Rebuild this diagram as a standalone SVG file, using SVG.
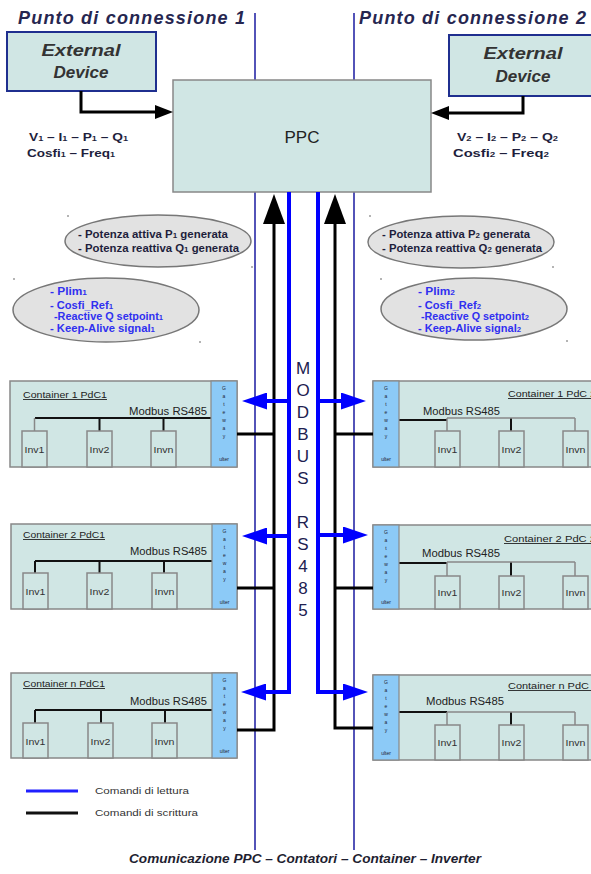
<svg xmlns="http://www.w3.org/2000/svg" width="591" height="874" viewBox="0 0 591 874">
<defs>
<style>
.ttl{font-family:"Liberation Sans",Arial,sans-serif;font-style:italic;font-weight:bold;font-size:18px;fill:#262650}
.ext{font-family:"Liberation Sans",Arial,sans-serif;font-style:italic;font-weight:bold;font-size:17px;fill:#333;text-anchor:middle}
.extbox{fill:#d0e6e4;stroke:#1f2f8f;stroke-width:2}
.box{fill:#d0e6e4;stroke:#888;stroke-width:1.5}
.gw{fill:#8ccaf7;stroke:#888;stroke-width:1.2}
.ell{fill:#e2e2e2;stroke:#777;stroke-width:1.5}
.thin{stroke:#1a1aa0;stroke-width:1.5;fill:none}
.blk{stroke:#000;stroke-width:3;fill:none}
.blu{stroke:#0000ff;stroke-width:4;fill:none;stroke-linejoin:miter}
.bus{stroke:#111;stroke-width:2;fill:none}
.gbus{stroke:#888;stroke-width:1.5;fill:none}
.dat{font-family:"Liberation Sans",Arial,sans-serif;font-weight:bold;font-size:10.5px;fill:#1e1e3c}
.et{font-family:"Liberation Sans",Arial,sans-serif;font-weight:bold;font-size:10px;fill:#1e1e3c}
.eb{font-family:"Liberation Sans",Arial,sans-serif;font-weight:bold;font-size:10px;fill:#3030f0}
.ct{font-family:"Liberation Sans",Arial,sans-serif;font-size:9px;fill:#222;text-decoration:underline}
.mb{font-family:"Liberation Sans",Arial,sans-serif;font-size:10px;fill:#222}
.iv{font-family:"Liberation Sans",Arial,sans-serif;font-size:9px;fill:#333;text-anchor:middle}
.gl{font-family:"Liberation Sans",Arial,sans-serif;font-size:5px;fill:#223;text-anchor:middle}
.mod{font-family:"Liberation Sans",Arial,sans-serif;font-size:17px;fill:#202050;text-anchor:middle}
.lg{font-family:"Liberation Sans",Arial,sans-serif;font-size:9.5px;fill:#333}
.cap{font-family:"Liberation Sans",Arial,sans-serif;font-style:italic;font-weight:bold;font-size:13px;fill:#1e1e30;text-anchor:middle}
.sub{font-size:7px}
.dot{fill:#555}
</style>
<marker id="aBig" markerUnits="userSpaceOnUse" markerWidth="30" markerHeight="22" refX="0" refY="11" orient="auto" viewBox="0 0 30 22"><path d="M0,0 L30,11 L0,22 z" fill="#000"/></marker>
<marker id="aSm" markerUnits="userSpaceOnUse" markerWidth="18" markerHeight="14" refX="0" refY="7" orient="auto" viewBox="0 0 18 14"><path d="M0,0 L18,7 L0,14 z" fill="#000"/></marker>
<marker id="aBlu" markerUnits="userSpaceOnUse" markerWidth="25" markerHeight="17" refX="0" refY="8.5" orient="auto" viewBox="0 0 25 17"><path d="M0,0 L25,8.5 L0,17 z" fill="#0000ff"/></marker>
</defs>
<rect width="591" height="874" fill="#fff"/>

<g id="bus-lines">
<line class="thin" x1="255" y1="13" x2="255" y2="850"/>
<line class="thin" x1="354" y1="13" x2="354" y2="850"/>
</g>

<text class="ttl" x="18" y="24" textLength="227" lengthAdjust="spacing">Punto di connessione 1</text>
<text class="ttl" x="359" y="24" textLength="227" lengthAdjust="spacing">Punto di connessione 2</text>

<g id="ext1">
<rect class="extbox" x="7" y="32" width="149" height="59"/>
<text class="ext" x="81" y="56" textLength="79" lengthAdjust="spacingAndGlyphs">External</text>
<text class="ext" x="81" y="78">Device</text>
</g>
<g id="ext2">
<rect class="extbox" x="449" y="35" width="150" height="61"/>
<text class="ext" x="523" y="59" textLength="79" lengthAdjust="spacingAndGlyphs">External</text>
<text class="ext" x="523" y="82">Device</text>
</g>

<g id="ppc">
<rect class="box" x="173" y="80" width="258" height="112" stroke-width="2"/>
<text x="302" y="143" font-family="Liberation Sans, Arial, sans-serif" font-size="17" fill="#222" text-anchor="middle">PPC</text>
</g>

<g id="meas1">
<text class="dat" x="29" y="141" textLength="99" lengthAdjust="spacingAndGlyphs">V<tspan class="sub">1</tspan> – I<tspan class="sub">1</tspan> – P<tspan class="sub">1</tspan> – Q<tspan class="sub">1</tspan></text>
<text class="dat" x="27" y="157" textLength="88" lengthAdjust="spacingAndGlyphs">Cosfi<tspan class="sub">1</tspan> – Freq<tspan class="sub">1</tspan></text>
</g>
<g id="meas2">
<text class="dat" x="457" y="141" textLength="101" lengthAdjust="spacingAndGlyphs">V<tspan class="sub">2</tspan> – I<tspan class="sub">2</tspan> – P<tspan class="sub">2</tspan> – Q<tspan class="sub">2</tspan></text>
<text class="dat" x="453" y="157" textLength="96" lengthAdjust="spacingAndGlyphs">Cosfi<tspan class="sub">2</tspan>  – Freq<tspan class="sub">2</tspan></text>
</g>

<g id="ell1a">
<ellipse class="ell" cx="158" cy="241" rx="93" ry="26"/>
<text class="et" x="78" y="238" textLength="150" lengthAdjust="spacingAndGlyphs">- Potenza attiva P<tspan class="sub">1</tspan> generata</text>
<text class="et" x="78" y="252" textLength="161" lengthAdjust="spacingAndGlyphs">- Potenza reattiva Q<tspan class="sub">1</tspan> generata</text>
</g>
<g id="ell1b">
<ellipse class="ell" cx="106" cy="310" rx="93" ry="32"/>
<text class="eb" x="50" y="295" textLength="37" lengthAdjust="spacingAndGlyphs">- Plim<tspan class="sub">1</tspan></text>
<text class="eb" x="50" y="309" textLength="63" lengthAdjust="spacingAndGlyphs">- Cosfi_Ref<tspan class="sub">1</tspan></text>
<text class="eb" x="54" y="320" textLength="109" lengthAdjust="spacingAndGlyphs">-Reactive Q setpoint<tspan class="sub">1</tspan></text>
<text class="eb" x="50" y="332" textLength="105" lengthAdjust="spacingAndGlyphs">- Keep-Alive signal<tspan class="sub">1</tspan></text>
</g>
<g id="ell2a">
<ellipse class="ell" cx="461" cy="242" rx="93" ry="26"/>
<text class="et" x="382" y="238" textLength="148" lengthAdjust="spacingAndGlyphs">- Potenza attiva P<tspan class="sub">2</tspan> generata</text>
<text class="et" x="382" y="252" textLength="160" lengthAdjust="spacingAndGlyphs">- Potenza reattiva Q<tspan class="sub">2</tspan> generata</text>
</g>
<g id="ell2b">
<ellipse class="ell" cx="474" cy="309" rx="93" ry="31"/>
<text class="eb" x="418" y="295" textLength="37" lengthAdjust="spacingAndGlyphs">- Plim<tspan class="sub">2</tspan></text>
<text class="eb" x="418" y="309" textLength="63" lengthAdjust="spacingAndGlyphs">- Cosfi_Ref<tspan class="sub">2</tspan></text>
<text class="eb" x="421" y="320" textLength="108" lengthAdjust="spacingAndGlyphs">-Reactive Q setpoint<tspan class="sub">2</tspan></text>
<text class="eb" x="418" y="332" textLength="103" lengthAdjust="spacingAndGlyphs">- Keep-Alive signal<tspan class="sub">2</tspan></text>
</g>
<g id="handles">
<circle class="dot" cx="68" cy="216" r="0.8"/><circle class="dot" cx="252" cy="267" r="0.8"/>
<circle class="dot" cx="14" cy="279" r="0.8"/><circle class="dot" cx="200" cy="342" r="0.8"/>
<circle class="dot" cx="370" cy="216" r="0.8"/><circle class="dot" cx="553" cy="267" r="0.8"/>
<circle class="dot" cx="381" cy="279" r="0.8"/><circle class="dot" cx="567" cy="341" r="0.8"/>
</g>

<g id="modbus-label">
<text class="mod" x="303" y="374">M</text>
<text class="mod" x="303" y="396">O</text>
<text class="mod" x="303" y="418">D</text>
<text class="mod" x="303" y="440">B</text>
<text class="mod" x="303" y="462">U</text>
<text class="mod" x="303" y="484">S</text>
<text class="mod" x="303" y="528">R</text>
<text class="mod" x="303" y="550">S</text>
<text class="mod" x="303" y="572">4</text>
<text class="mod" x="303" y="594">8</text>
<text class="mod" x="303" y="616">5</text>
</g>

<!-- Left containers -->
<g id="c1L">
<rect class="box" x="10" y="381" width="227" height="86"/>
<text class="ct" x="23" y="398" textLength="84" lengthAdjust="spacingAndGlyphs">Container 1  PdC1</text>
<text class="mb" x="129" y="415" textLength="78" lengthAdjust="spacingAndGlyphs">Modbus RS485</text>
<path class="bus" d="M35,418 H211 M99.5,418 V431 M163.5,418 V431"/>
<path class="gbus" d="M34.5,418 V431"/>
<rect class="box" x="22" y="431" width="25" height="36"/><text class="iv" x="34.5" y="453" textLength="20" lengthAdjust="spacingAndGlyphs">Inv1</text>
<rect class="box" x="87" y="431" width="25" height="36"/><text class="iv" x="99.5" y="453" textLength="20" lengthAdjust="spacingAndGlyphs">Inv2</text>
<rect class="box" x="151" y="431" width="25" height="36"/><text class="iv" x="163.5" y="453" textLength="20" lengthAdjust="spacingAndGlyphs">Invn</text>
<rect class="gw" x="211" y="381" width="26" height="86"/>
<text class="gl"><tspan x="224" y="390">G</tspan><tspan x="224" y="398">a</tspan><tspan x="224" y="406">t</tspan><tspan x="224" y="414">e</tspan><tspan x="224" y="422">w</tspan><tspan x="224" y="430">a</tspan><tspan x="224" y="438">y</tspan><tspan x="224" y="461">ulter</tspan></text>
</g>
<g id="c2L">
<rect class="box" x="11" y="524" width="226" height="85"/>
<text class="ct" x="23" y="538" textLength="82" lengthAdjust="spacingAndGlyphs">Container 2 PdC1</text>
<text class="mb" x="130" y="555" textLength="77" lengthAdjust="spacingAndGlyphs">Modbus RS485</text>
<path class="bus" d="M35,561 H212 M35,561 V573 M99.5,561 V573 M164,561 V573"/>
<rect class="box" x="23" y="573" width="25" height="36"/><text class="iv" x="35.5" y="595" textLength="20" lengthAdjust="spacingAndGlyphs">Inv1</text>
<rect class="box" x="87" y="573" width="25" height="36"/><text class="iv" x="99.5" y="595" textLength="20" lengthAdjust="spacingAndGlyphs">Inv2</text>
<rect class="box" x="152" y="573" width="25" height="36"/><text class="iv" x="164.5" y="595" textLength="20" lengthAdjust="spacingAndGlyphs">Invn</text>
<rect class="gw" x="212" y="524" width="25" height="85"/>
<text class="gl"><tspan x="224.5" y="533">G</tspan><tspan x="224.5" y="541">a</tspan><tspan x="224.5" y="549">t</tspan><tspan x="224.5" y="557">e</tspan><tspan x="224.5" y="565">w</tspan><tspan x="224.5" y="573">a</tspan><tspan x="224.5" y="581">y</tspan><tspan x="224.5" y="604">ulter</tspan></text>
</g>
<g id="cnL">
<rect class="box" x="11" y="673" width="226" height="85"/>
<text class="ct" x="23" y="687" textLength="82" lengthAdjust="spacingAndGlyphs">Container n PdC1</text>
<text class="mb" x="130" y="705" textLength="77" lengthAdjust="spacingAndGlyphs">Modbus RS485</text>
<path class="bus" d="M35,710 H212 M35,710 V723 M101,710 V723 M165,710 V723"/>
<rect class="box" x="23" y="723" width="25" height="35"/><text class="iv" x="35.5" y="745" textLength="20" lengthAdjust="spacingAndGlyphs">Inv1</text>
<rect class="box" x="88" y="723" width="25" height="35"/><text class="iv" x="100.5" y="745" textLength="20" lengthAdjust="spacingAndGlyphs">Inv2</text>
<rect class="box" x="152" y="723" width="25" height="35"/><text class="iv" x="164.5" y="745" textLength="20" lengthAdjust="spacingAndGlyphs">Invn</text>
<rect class="gw" x="212" y="673" width="25" height="85"/>
<text class="gl"><tspan x="224.5" y="682">G</tspan><tspan x="224.5" y="690">a</tspan><tspan x="224.5" y="698">t</tspan><tspan x="224.5" y="706">e</tspan><tspan x="224.5" y="714">w</tspan><tspan x="224.5" y="722">a</tspan><tspan x="224.5" y="730">y</tspan><tspan x="224.5" y="753">ulter</tspan></text>
</g>

<!-- Right containers -->
<g id="c1R">
<rect class="box" x="373" y="381" width="230" height="86"/>
<text class="ct" x="508" y="397" textLength="88" lengthAdjust="spacingAndGlyphs">Container 1 PdC 2</text>
<text class="mb" x="423" y="415" textLength="77" lengthAdjust="spacingAndGlyphs">Modbus RS485</text>
<path class="bus" d="M399,420 H447 M511,418 V431"/>
<path class="gbus" d="M447,418 H575 M447,418 V431 M575,418 V431"/>
<rect class="box" x="435" y="431" width="25" height="36"/><text class="iv" x="447.5" y="453" textLength="20" lengthAdjust="spacingAndGlyphs">Inv1</text>
<rect class="box" x="499" y="431" width="25" height="36"/><text class="iv" x="511.5" y="453" textLength="20" lengthAdjust="spacingAndGlyphs">Inv2</text>
<rect class="box" x="563" y="431" width="25" height="36"/><text class="iv" x="575.5" y="453" textLength="20" lengthAdjust="spacingAndGlyphs">Invn</text>
<rect class="gw" x="373" y="381" width="26" height="86"/>
<text class="gl"><tspan x="386" y="390">G</tspan><tspan x="386" y="398">a</tspan><tspan x="386" y="406">t</tspan><tspan x="386" y="414">e</tspan><tspan x="386" y="422">w</tspan><tspan x="386" y="430">a</tspan><tspan x="386" y="438">y</tspan><tspan x="386" y="461">ulter</tspan></text>
</g>
<g id="c2R">
<rect class="box" x="373" y="525" width="230" height="84"/>
<text class="ct" x="504" y="542" textLength="92" lengthAdjust="spacingAndGlyphs">Container 2  PdC 2</text>
<text class="mb" x="422" y="557" textLength="78" lengthAdjust="spacingAndGlyphs">Modbus RS485</text>
<path class="bus" d="M399,563 H447 M511,562 V576"/>
<path class="gbus" d="M447,562 H575 M447,562 V576 M575,562 V576"/>
<rect class="box" x="435" y="576" width="25" height="33"/><text class="iv" x="447.5" y="596" textLength="20" lengthAdjust="spacingAndGlyphs">Inv1</text>
<rect class="box" x="499" y="576" width="25" height="33"/><text class="iv" x="511.5" y="596" textLength="20" lengthAdjust="spacingAndGlyphs">Inv2</text>
<rect class="box" x="563" y="576" width="25" height="33"/><text class="iv" x="575.5" y="596" textLength="20" lengthAdjust="spacingAndGlyphs">Invn</text>
<rect class="gw" x="373" y="525" width="26" height="84"/>
<text class="gl"><tspan x="386" y="534">G</tspan><tspan x="386" y="542">a</tspan><tspan x="386" y="550">t</tspan><tspan x="386" y="558">e</tspan><tspan x="386" y="566">w</tspan><tspan x="386" y="574">a</tspan><tspan x="386" y="582">y</tspan><tspan x="386" y="604">ulter</tspan></text>
</g>
<g id="cnR">
<rect class="box" x="373" y="675" width="230" height="85"/>
<text class="ct" x="508" y="689" textLength="90" lengthAdjust="spacingAndGlyphs">Container n PdC 2</text>
<text class="mb" x="426" y="705" textLength="78" lengthAdjust="spacingAndGlyphs">Modbus RS485</text>
<path class="bus" d="M399,712 H447 M511,712 V725"/>
<path class="gbus" d="M447,712 H575 M447,712 V725 M575,712 V725"/>
<rect class="box" x="435" y="725" width="25" height="35"/><text class="iv" x="447.5" y="746" textLength="20" lengthAdjust="spacingAndGlyphs">Inv1</text>
<rect class="box" x="499" y="725" width="25" height="35"/><text class="iv" x="511.5" y="746" textLength="20" lengthAdjust="spacingAndGlyphs">Inv2</text>
<rect class="box" x="563" y="725" width="25" height="35"/><text class="iv" x="575.5" y="746" textLength="20" lengthAdjust="spacingAndGlyphs">Invn</text>
<rect class="gw" x="373" y="675" width="26" height="85"/>
<text class="gl"><tspan x="386" y="684">G</tspan><tspan x="386" y="692">a</tspan><tspan x="386" y="700">t</tspan><tspan x="386" y="708">e</tspan><tspan x="386" y="716">w</tspan><tspan x="386" y="724">a</tspan><tspan x="386" y="732">y</tspan><tspan x="386" y="755">ulter</tspan></text>
</g>

<g id="connectors">
<path class="blk" d="M81,91 V112 H155" marker-end="url(#aSm)"/>
<path class="blk" d="M523,96 V113 H449" marker-end="url(#aSm)"/>
<path class="blk" d="M237,730 H274 V224" marker-end="url(#aBig)"/>
<path class="blk" d="M237,434 H274 M237,588 H274"/>
<path class="blk" d="M373,728 H335 V224" marker-end="url(#aBig)"/>
<path class="blk" d="M335,434 H373 M335,588 H373"/>
<path class="blu" d="M289,192 V692 H266" marker-end="url(#aBlu)"/>
<path class="blu" d="M289,401 H267" marker-end="url(#aBlu)"/>
<path class="blu" d="M289,536 H267" marker-end="url(#aBlu)"/>
<path class="blu" d="M318,192 V692 H343" marker-end="url(#aBlu)"/>
<path class="blu" d="M318,401 H341" marker-end="url(#aBlu)"/>
<path class="blu" d="M318,535 H343" marker-end="url(#aBlu)"/>
</g>

<g id="legend">
<line x1="26" y1="791" x2="78" y2="791" stroke="#2020ff" stroke-width="3"/>
<line x1="26" y1="813" x2="78" y2="813" stroke="#111" stroke-width="3"/>
<text class="lg" x="95" y="794" textLength="94" lengthAdjust="spacingAndGlyphs">Comandi di lettura</text>
<text class="lg" x="95" y="816" textLength="103" lengthAdjust="spacingAndGlyphs">Comandi di scrittura</text>
</g>
<text class="cap" x="305" y="863" textLength="352" lengthAdjust="spacingAndGlyphs">Comunicazione PPC – Contatori – Container – Inverter</text>
</svg>
